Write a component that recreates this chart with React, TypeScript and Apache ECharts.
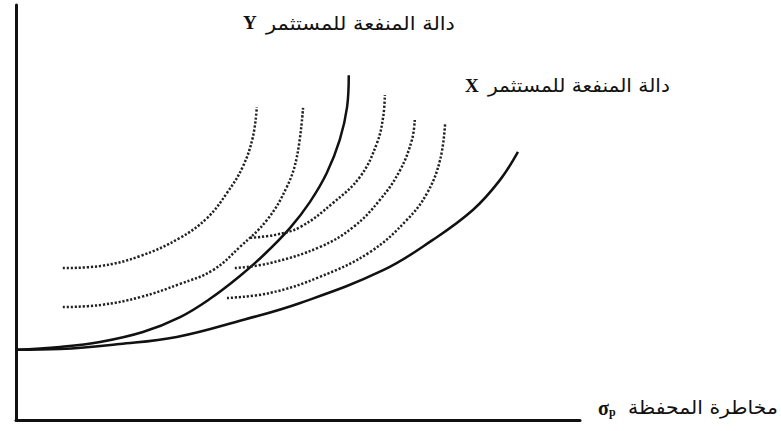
import React, { useEffect, useRef } from "react";
import * as echarts from "echarts";

// Indifference (utility) curves of two investors in risk / return space.
// Units are arbitrary: x = portfolio risk, y = expected return (0..100).
const utilityY: [number, number][] = [
  [0, 16.9], [7.8, 17.6], [14.9, 18.8], [22.5, 21.2], [29.1, 24.8], [34.4, 29.2],
  [39.7, 34.7], [44.1, 40.0], [48.6, 46.3], [52.1, 52.5], [55.1, 59.5], [57.4, 67.5],
  [58.7, 75.4], [59.0, 83.1],
];
const utilityX: [number, number][] = [
  [0, 16.9], [7.8, 17.1], [18.4, 18.3], [28.5, 20.0], [40.2, 24.1], [50.4, 28.2],
  [65.1, 36.1], [73.9, 43.4], [81.0, 50.6], [85.8, 57.8], [89.0, 64.6],
];
// Higher indifference curves of investor Y
const curveY1: [number, number][] = [
  [8.3, 36.6], [14.9, 37.1], [22.0, 39.5], [29.1, 43.9], [33.9, 48.7], [37.4, 54.7],
  [40.2, 61.0], [42.0, 68.2], [42.7, 75.4],
];
const curveY2: [number, number][] = [
  [8.3, 27.2], [14.9, 27.7], [22.0, 29.6], [29.1, 32.8], [34.9, 36.1], [39.7, 41.7],
  [44.5, 48.2], [48.0, 56.1], [49.8, 63.4], [50.9, 75.2],
];
// Higher indifference curves of investor X
const curveX1: [number, number][] = [
  [41.5, 43.9], [45.9, 44.6], [50.4, 46.5], [56.2, 52.3], [61.0, 58.6], [64.0, 66.7],
  [65.1, 73.0], [65.4, 78.3],
];
const curveX2: [number, number][] = [
  [38.8, 36.6], [45.0, 37.8], [53.9, 41.7], [59.8, 46.5], [64.5, 53.0], [68.1, 60.2],
  [70.2, 67.5], [70.7, 72.3],
];
const curveX3: [number, number][] = [
  [37.4, 29.4], [45.0, 30.6], [53.9, 34.5], [62.8, 40.5], [69.3, 48.2], [72.9, 54.7],
  [75.2, 62.7], [76.1, 71.6],
];

const captionText = "دالة المنفعة للمستثمر";
const investorY = "Y";
const investorX = "X";
const axisTitle = "مخاطرة المحفظة";

const SERIF = "'Liberation Serif', 'DejaVu Serif', serif";
const ARABIC = "'DejaVu Sans', 'Noto Sans', sans-serif";
const AR_FONT = `19px ${ARABIC}`;

// horizontal stretch so a caption spans the wanted width
function stretchTo(text: string, font: string, width: number): number {
  const ctx = document.createElement("canvas").getContext("2d");
  if (!ctx) return 1;
  ctx.font = font;
  const w = ctx.measureText(text).width;
  return w > 0 ? width / w : 1;
}

export default function App() {
  const ref = useRef<HTMLDivElement>(null);

  useEffect(() => {
    document.body.style.margin = "0";
    const chart = echarts.init(ref.current!, null, { renderer: "svg" });

    const solid = (data: [number, number][]) => ({
      type: "line",
      data,
      smooth: 0.4,
      symbol: "none",
      lineStyle: { color: "#111", width: 2.5 },
      silent: true,
    });
    const dotted = (data: [number, number][]) => ({
      type: "line",
      data,
      smooth: 0.4,
      symbol: "none",
      lineStyle: { color: "#222", width: 2.5, type: [2.2, 1.8] },
      silent: true,
    });

    const arabicText = (text: string, x: number, y: number, width: number) => ({
      type: "text",
      x,
      y,
      scaleX: stretchTo(text, AR_FONT, width),
      style: { text, font: AR_FONT, fill: "#111", verticalAlign: "middle" },
    });
    const letterText = (text: string, x: number, y: number) => ({
      type: "text",
      x,
      y,
      style: { text, font: `bold 19px ${SERIF}`, fill: "#111", verticalAlign: "middle" },
    });

    chart.setOption({
      animation: false,
      backgroundColor: "#fff",
      grid: { left: 16, top: 5, width: 564, height: 415 },
      xAxis: {
        type: "value",
        min: 0,
        max: 100,
        axisLine: { show: true, lineStyle: { color: "#111", width: 3 } },
        axisTick: { show: false },
        axisLabel: { show: false },
        splitLine: { show: false },
      },
      yAxis: {
        type: "value",
        min: 0,
        max: 100,
        axisLine: { show: true, lineStyle: { color: "#111", width: 3 } },
        axisTick: { show: false },
        axisLabel: { show: false },
        splitLine: { show: false },
      },
      series: [
        solid(utilityY),
        solid(utilityX),
        dotted(curveY1),
        dotted(curveY2),
        dotted(curveX1),
        dotted(curveX2),
        dotted(curveX3),
      ],
      graphic: [
        letterText(investorY, 243, 22),
        arabicText(captionText, 266, 23, 189),
        letterText(investorX, 465, 85),
        arabicText(captionText, 488, 86, 182),
        {
          type: "text",
          x: 598,
          y: 408,
          style: {
            text: "{s|σ}{p|p}",
            verticalAlign: "middle",
            rich: {
              s: { font: `bold 20px ${SERIF}`, fill: "#111" },
              p: { font: `bold 12px ${SERIF}`, fill: "#111", padding: [8, 0, 0, 0] },
            },
          },
        },
        arabicText(axisTitle, 628, 408, 150),
      ],
    });

    return () => chart.dispose();
  }, []);

  return <div ref={ref} style={{ width: 781, height: 431 }} />;
}
